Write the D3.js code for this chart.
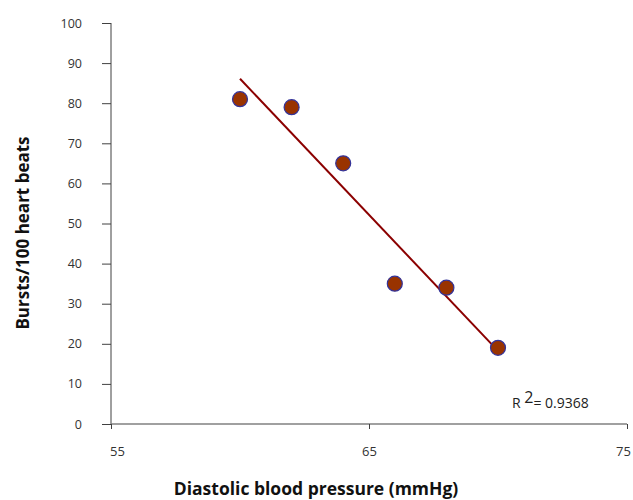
<!DOCTYPE html>
<html>
<head>
<meta charset="utf-8">
<script src="https://cdn.jsdelivr.net/npm/d3@7"></script>
<style>
  body { margin: 0; background: #fff; }
  text { font-family: "Open Sans", sans-serif; }
</style>
</head>
<body>
<svg id="chart"></svg>
<script>
// data
var pressure = [60, 62, 64, 66, 68, 70];
var bursts = [81, 79, 65, 35, 34, 19];
var xTicks = [55, 65, 75];
var yTicks = [0, 10, 20, 30, 40, 50, 60, 70, 80, 90, 100];
var r2Label = "0.9368";

var width = 633, height = 500;
var margin = { top: 23, right: 6, bottom: 76, left: 111 };

var svg = d3.select("#chart")
  .attr("width", width)
  .attr("height", height);

var g = svg.append("g")
  .attr("transform", "translate(" + margin.left + "," + margin.top + ")");

var w = width - margin.left - margin.right;
var h = height - margin.top - margin.bottom;

var x = d3.scaleLinear().domain([55, 75]).range([0, w]);
var y = d3.scaleLinear().domain([0, 100]).range([h, 0]);

// Y axis
var yAxis = g.append("g")
  .call(d3.axisLeft(y).tickValues(yTicks).tickSize(9).tickPadding(20));
yAxis.select(".domain").attr("stroke", "#404040").attr("d", "M0," + y(100) + "V" + y(0));
yAxis.selectAll(".tick line").attr("stroke", "#404040");
yAxis.selectAll("text")
  .style("font-size", "12.5px")
  .attr("fill", "#333")
  .attr("text-anchor", "end");

// X axis
var xAxis = g.append("g")
  .attr("transform", "translate(0," + h + ")")
  .call(d3.axisBottom(x).tickValues(xTicks).tickSize(5).tickPadding(18));
xAxis.select(".domain").attr("stroke", "#808080").attr("stroke-width", 1.5)
  .attr("d", "M0,0H" + x(75));
xAxis.selectAll(".tick line").attr("stroke", "#404040");
xAxis.selectAll("text")
  .style("font-size", "13px")
  .attr("fill", "#333");
xAxis.selectAll(".tick").filter(function (d) { return d === 55; })
  .select("text").attr("dx", 6);
xAxis.selectAll(".tick").filter(function (d) { return d === 75; })
  .select("text").attr("dx", -4);

// linear trend line
var mx = d3.mean(pressure), my = d3.mean(bursts);
var sxy = d3.sum(pressure, function (p, i) { return (p - mx) * (bursts[i] - my); });
var sxx = d3.sum(pressure, function (p) { return (p - mx) * (p - mx); });
var slope = sxy / sxx;
var intercept = my - slope * mx;
var x0 = d3.min(pressure), x1 = d3.max(pressure);

g.append("line")
  .attr("x1", x(x0))
  .attr("y1", y(intercept + slope * x0))
  .attr("x2", x(x1))
  .attr("y2", y(intercept + slope * x1))
  .attr("stroke", "#8b0000")
  .attr("stroke-width", 2);

// points
g.selectAll("circle.pt")
  .data(pressure)
  .enter()
  .append("circle")
  .attr("class", "pt")
  .attr("cx", function (d) { return x(d); })
  .attr("cy", function (d, i) { return y(bursts[i]); })
  .attr("r", 7.5)
  .attr("fill", "#993300")
  .attr("stroke", "#33339a")
  .attr("stroke-width", 1.2);

// R squared label
var r2 = svg.append("text")
  .attr("x", 512)
  .attr("y", 408)
  .style("font-size", "14px")
  .attr("fill", "#222");
r2.append("tspan").text("R ");
r2.append("tspan").attr("dy", -5).style("font-size", "16px").text("2");
r2.append("tspan").attr("dy", 5).text("= " + r2Label);

// axis titles
svg.append("text")
  .attr("x", 316)
  .attr("y", 495)
  .attr("text-anchor", "middle")
  .style("font-size", "17.5px")
  .style("font-weight", "bold")
  .attr("fill", "#111")
  .text("Diastolic blood pressure (mmHg)");

svg.append("text")
  .attr("transform", "translate(29,233) rotate(-90)")
  .attr("text-anchor", "middle")
  .style("font-size", "17px")
  .style("font-weight", "bold")
  .attr("fill", "#111")
  .text("Bursts/100 heart beats");
</script>
</body>
</html>
